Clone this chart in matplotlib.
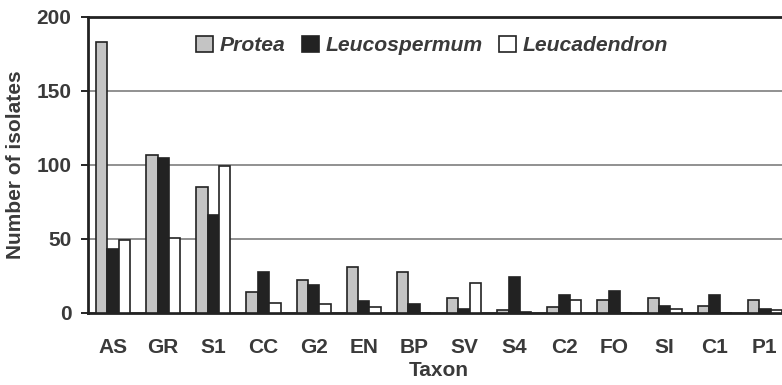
import numpy as np
import matplotlib
matplotlib.use('Agg')
import matplotlib.pyplot as plt

plt.rcParams['font.family'] = ['Liberation Sans', 'DejaVu Sans']

taxa = ['AS', 'GR', 'S1', 'CC', 'G2', 'EN', 'BP', 'SV', 'S4', 'C2', 'FO', 'SI', 'C1', 'P1']
protea = [183, 107, 85, 14, 22, 31, 28, 10, 2, 4, 9, 10, 5, 9]
leucospermum = [43, 105, 66, 28, 19, 8, 6, 3, 24, 12, 15, 5, 12, 3]
leucadendron = [49, 51, 99, 7, 6, 4, 0, 20, 1, 9, 0, 3, 0, 2]

txt = '#3a3a3a'
fig = plt.figure(figsize=(7.82, 3.85), dpi=100)
ax = fig.add_axes([88/782, 72/385, 702/782, 296/385])

x = np.arange(len(taxa))
w = 0.227
ax.bar(x - w, protea, w, color='#c4c4c4', edgecolor='#222222', linewidth=1.2, label='Protea', zorder=3)
ax.bar(x, leucospermum, w, color='#222222', edgecolor='#222222', linewidth=1.2, label='Leucospermum', zorder=3)
ax.bar(x + w, leucadendron, w, color='white', edgecolor='#222222', linewidth=1.2, label='Leucadendron', zorder=3)

ax.set_xlim(-0.5, len(taxa) - 0.5)
ax.set_ylim(0, 200)
ax.set_yticks([0, 50, 100, 150, 200])
ax.yaxis.grid(True, color='#888888', linewidth=1.3)
ax.set_axisbelow(True)
for s in ax.spines.values():
    s.set_linewidth(2)
    s.set_color('#222222')

ax.set_xticks(x)
ax.set_xticklabels(taxa, fontweight='bold')
ax.tick_params(axis='x', length=0, pad=18, labelsize=15, labelcolor=txt)
ax.tick_params(axis='y', length=5, width=1.2, direction='out', pad=7, labelsize=15, labelcolor=txt)
plt.setp(ax.get_yticklabels(), fontweight='bold')

ax.set_xlabel('Taxon', fontsize=15, fontweight='bold', color=txt, labelpad=3)
ax.set_ylabel('Number of isolates', fontsize=15, fontweight='bold', color=txt, labelpad=8)

leg = ax.legend(loc='upper center', bbox_to_anchor=(0.49, 1.0), ncol=3, frameon=False,
                handlelength=0.8, handleheight=0.8, handletextpad=0.3, columnspacing=0.8,
                prop={'style': 'italic', 'weight': 'bold', 'size': 15.2})
for t in leg.get_texts():
    t.set_color(txt)

fig.savefig('out.png', dpi=100)
